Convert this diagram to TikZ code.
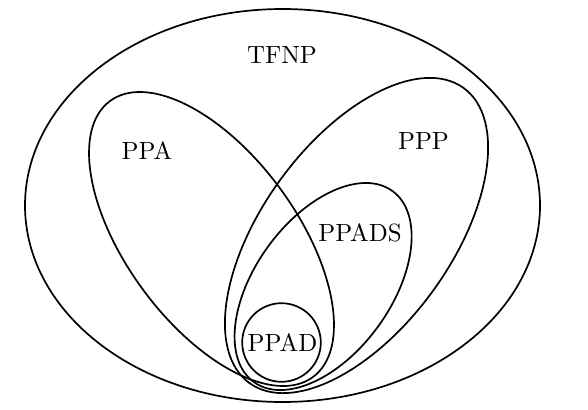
\documentclass[tikz,border=0pt]{standalone}
\begin{document}
\begin{tikzpicture}[x=1bp,y=1bp,
  setline/.style={draw=black,line width=1.7bp},
  setlabel/.style={inner sep=0pt,scale=2.5}]
\useasboundingbox (0,0) rectangle (588,409);
% TFNP
\draw[setline] (282.5,203.5) ellipse (257.5 and 196.5);
% PPA
\draw[setline,rotate around={-53.7:(211.5,170)}] (211.5,170) ellipse (171.3 and 85.2);
% PPP
\draw[setline,rotate around={54:(356.5,173.5)}] (356.5,173.5) ellipse (182.3 and 94.4);
% PPADS
\draw[setline,rotate around={54:(323.1,122.5)}] (323.1,122.5) ellipse (118 and 68);
% PPAD
\draw[setline] (281.5,66.5) circle (39.3);
\node[setlabel] (tfnp) at (282,354) {TFNP};
\node[setlabel] (ppa) at (147,258) {PPA};
\node[setlabel] (ppp) at (423.5,268) {PPP};
\node[setlabel] (ppads) at (360,176) {PPADS};
\node[setlabel] (ppad) at (282.5,66) {PPAD};
\end{tikzpicture}
\end{document}
